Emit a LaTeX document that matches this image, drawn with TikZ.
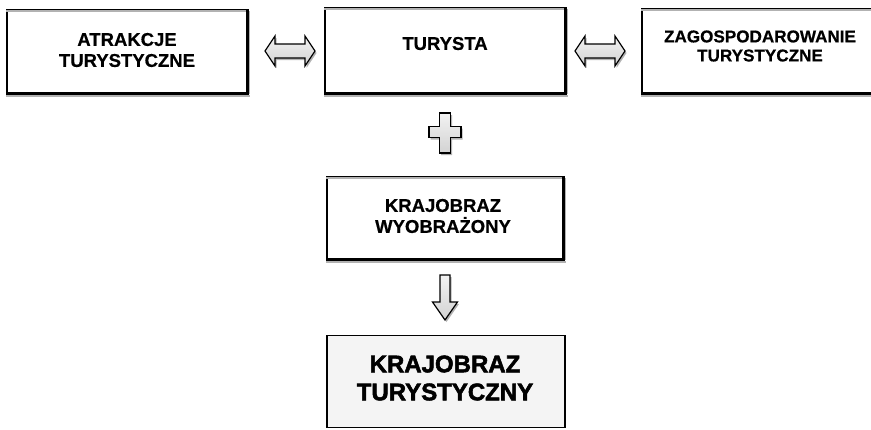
\documentclass[tikz,border=0pt]{standalone}
\usepackage{fontspec}
\setmainfont{Liberation Sans}
\usetikzlibrary{calc}
\tikzset{
  box/.style={draw, line width=1.3pt, rectangle, inner sep=0pt, fill=white},
  lbl/.style={font=\bfseries\addfontfeature{FakeBold=0.6}\fontsize{18.5}{21}\selectfont, align=center, inner sep=0pt},
  shadowline/.style={draw=gray!60, line width=1.8pt},
  arrowbody/.style={draw, line width=1.2pt, top color=gray!10, bottom color=gray!35, line join=miter},
  arrowshadow/.style={fill=gray!60},
  dblarrow/.pic={
    \fill[arrowshadow] (-23.5,2) -- ++(10,-15) -- ++(0,8) -- ++(30,0) -- ++(0,-8) -- ++(10,15) -- ++(-10,15) -- ++(0,-8) -- ++(-30,0) -- ++(0,8) -- cycle;
    \path[arrowbody] (-25,0) -- ++(10,-15) -- ++(0,8) -- ++(30,0) -- ++(0,-8) -- ++(10,15) -- ++(-10,15) -- ++(0,-8) -- ++(-30,0) -- ++(0,8) -- cycle;
  },
  plusarrow/.pic={
    \fill[arrowshadow] (-4,-17) -- (7,-17) -- (7,-3.5) -- (17.5,-3.5) -- (17.5,7.5) -- (7,7.5) -- (7,23) -- (-4,23) -- (-4,7.5) -- (-14.5,7.5) -- (-14.5,-3.5) -- (-4,-3.5) -- cycle;
    \path[arrowbody] (-5.5,-19) -- (5.5,-19) -- (5.5,-5.5) -- (16,-5.5) -- (16,5.5) -- (5.5,5.5) -- (5.5,21) -- (-5.5,21) -- (-5.5,5.5) -- (-16,5.5) -- (-16,-5.5) -- (-5.5,-5.5) -- cycle;
  },
  downarrow/.pic={
    \fill[arrowshadow] (-3.5,2) -- (6.5,2) -- (6.5,29) -- (14,29) -- (1.5,47) -- (-11,29) -- (-3.5,29) -- cycle;
    \path[arrowbody] (-5,0) -- (5,0) -- (5,27) -- (12.5,27) -- (0,45) -- (-12.5,27) -- (-5,27) -- cycle;
  }
}
\begin{document}
\begin{tikzpicture}[x=1pt,y=-1pt]
\useasboundingbox (0,0) rectangle (871,429);
\begin{scope}
\clip (0,0) rectangle (871,429);
% boxes
\node[box, minimum width=240pt, minimum height=83pt] (b1) at (127,51.5) {};
\node[box, minimum width=240pt, minimum height=85pt] (b2) at (445,50.5) {};
\node[box, minimum width=240pt, minimum height=84pt] (b3) at (762,51) {};
\node[box, minimum width=236pt, minimum height=82pt] (b4) at (445,218) {};
\node[draw, line width=1.6pt, fill=gray!9, rectangle, inner sep=0pt, minimum width=238pt, minimum height=92pt] (b5) at (446,381.5) {};
% shadow effect on the upper boxes
\foreach \n in {b1,b2,b3,b4} {
  \draw[shadowline] ([yshift=-1.6pt]\n.north west) -- ([yshift=-1.6pt]\n.north east);
  \draw[shadowline] ([yshift=-2.4pt]\n.south west) -- ([yshift=-2.4pt,xshift=2pt]\n.south east);
  \draw[shadowline, line width=1.4pt] ([xshift=2pt,yshift=-2pt]\n.north east) -- ([xshift=2pt]\n.south east);
  \draw[line width=2.4pt] (\n.north east) -- (\n.south east) -- (\n.south west);
}
% labels
\node[lbl] (t1) at (127,50) {ATRAKCJE\\TURYSTYCZNE};
\node[lbl] (t2) at (445,43.5) {TURYSTA};
\node[lbl, font=\bfseries\addfontfeature{FakeBold=0.6}\fontsize{17.1}{19}\selectfont] (t3) at (760,46) {ZAGOSPODAROWANIE\\TURYSTYCZNE};
\node[lbl] (t4) at (443,216) {KRAJOBRAZ\\WYOBRAŻONY};
\node[lbl, font=\bfseries\addfontfeature{FakeBold=2.2}\fontsize{24}{28}\selectfont] (t5) at (445,378) {KRAJOBRAZ\\TURYSTYCZNY};
% connectors
\pic (a1) at (290,51) {dblarrow};
\pic (a2) at (600,51) {dblarrow};
\pic (a3) at (445,132) {plusarrow};
\pic (a4) at (445,275) {downarrow};
\end{scope}
\end{tikzpicture}
\end{document}
